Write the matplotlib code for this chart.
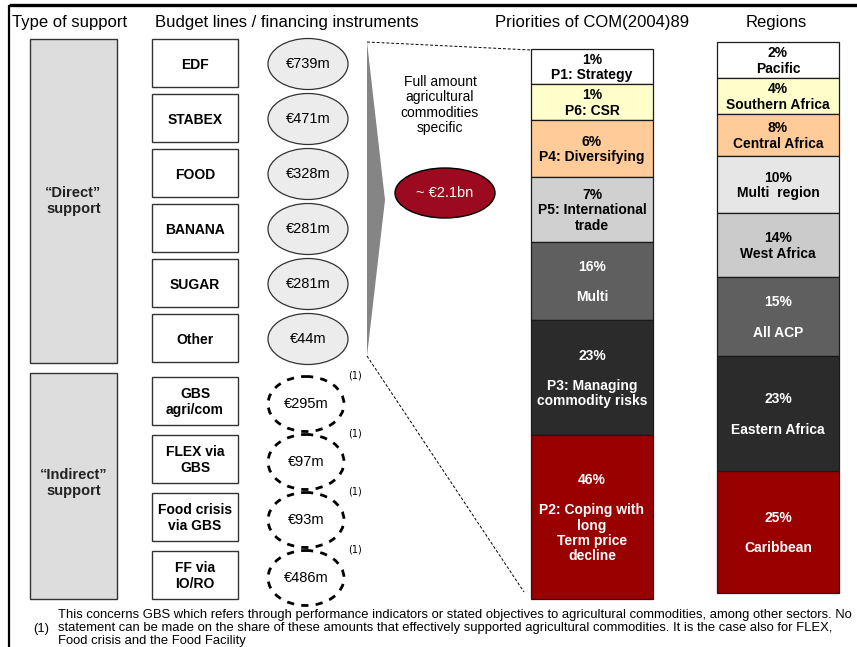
import matplotlib.pyplot as plt
from matplotlib.patches import Rectangle, Ellipse, Polygon

plt.rcParams['font.family'] = ['Liberation Sans', 'DejaVu Sans']

# data
direct_lines = ['EDF', 'STABEX', 'FOOD', 'BANANA', 'SUGAR', 'Other']
direct_amounts = [739, 471, 328, 281, 281, 44]
indirect_lines = ['GBS\nagri/com', 'FLEX via\nGBS', 'Food crisis\nvia GBS', 'FF via\nIO/RO']
indirect_amounts = [295, 97, 93, 486]
total_label = '~ €2.1bn'

priority_labels = ['P1: Strategy', 'P6: CSR', 'P4: Diversifying', 'P5: International\ntrade',
                   '\nMulti', '\nP3: Managing\ncommodity risks',
                   '\nP2: Coping with\nlong\nTerm price\ndecline']
priority_pct = [1, 1, 6, 7, 16, 23, 46]

region_labels = ['Pacific', 'Southern Africa', 'Central Africa', 'Multi  region', 'West Africa',
                 '\nAll ACP', '\nEastern Africa', '\nCaribbean']
region_pct = [2, 4, 8, 10, 14, 15, 23, 25]

# layout (pixel units) - segment heights are not proportional in the original
prio_h = [35, 36, 57, 65, 78, 115, 164]
prio_col = ['#ffffff', '#ffffcc', '#ffcc99', '#d0d0d0', '#5f5f5f', '#2b2b2b', '#990000']
prio_txt = ['black'] * 4 + ['white'] * 3
reg_h = [36, 36, 42, 57, 64, 79, 115, 122]
reg_col = ['#ffffff', '#ffffcc', '#ffcc99', '#e6e6e6', '#cbcbcb', '#5f5f5f', '#2b2b2b', '#990000']
reg_txt = ['black'] * 5 + ['white'] * 3

fig = plt.figure(figsize=(8.57, 6.47), dpi=100)
ax = fig.add_axes([0, 0, 1, 1])
ax.set_xlim(0, 857)
ax.set_ylim(647, 0)
ax.axis('off')

# frame
ax.plot([9, 857], [5, 5], color='black', lw=2.4, solid_capstyle='butt')
ax.plot([9, 9], [5, 647], color='black', lw=1.6, solid_capstyle='butt')

# headers
ax.text(12, 22, 'Type of support', fontsize=12, va='center')
ax.text(155, 22, 'Budget lines / financing instruments', fontsize=12, va='center')
ax.text(592, 22, 'Priorities of COM(2004)89', fontsize=12, va='center', ha='center')
ax.text(776, 22, 'Regions', fontsize=12, va='center', ha='center')

# type of support boxes
ax.add_patch(Rectangle((30, 39), 87, 324, fc='#dddddd', ec='#333333', lw=1))
ax.text(73.5, 201, '“Direct”\nsupport', ha='center', va='center', fontsize=10.5,
        fontweight='bold', color='#222222', linespacing=1.1)
ax.add_patch(Rectangle((30, 373), 87, 226, fc='#dddddd', ec='#333333', lw=1))
ax.text(73.5, 483, '“Indirect”\nsupport', ha='center', va='center', fontsize=10.5,
        fontweight='bold', color='#222222', linespacing=1.1)

# direct budget lines
for i, (name, amt) in enumerate(zip(direct_lines, direct_amounts)):
    yc = 63 + i * 55
    ax.add_patch(Rectangle((152, yc - 24), 86, 48, fc='white', ec='#333333', lw=1))
    ax.text(195, yc + 2, name, ha='center', va='center', fontsize=10, fontweight='bold')
    ax.add_patch(Ellipse((308, yc + 1), 80, 51, fc='#ececec', ec='#333333', lw=0.9))
    ax.text(308, yc + 1, f'€{amt}m', ha='center', va='center', fontsize=10.5)

# indirect budget lines
for i, (name, amt) in enumerate(zip(indirect_lines, indirect_amounts)):
    yc = 401 + i * 58
    ax.add_patch(Rectangle((152, yc - 24), 86, 48, fc='white', ec='#333333', lw=1))
    ax.text(195, yc + 1, name, ha='center', va='center', fontsize=10, fontweight='bold',
            linespacing=1.1)
    ax.add_patch(Ellipse((306, yc + 3), 76, 55, fc='none', ec='black', lw=2,
                         ls=(0, (2.6, 2.6))))
    ax.text(306, yc + 3, f'€{amt}m', ha='center', va='center', fontsize=10.5)
    ax.text(348, yc - 26, '(1)', fontsize=7, va='center', family='DejaVu Sans')

# funnel wedge and dashed guides
ax.add_patch(Polygon([(367, 42), (385, 200), (367, 356)], closed=True, fc='#858585', ec='none'))
ax.plot([367, 531], [42, 50], color='black', lw=0.7, ls=(0, (3, 2)))
ax.plot([367, 524], [356, 592], color='black', lw=0.7, ls=(0, (3, 2)))

ax.text(440, 105, 'Full amount\nagricultural\ncommodities\nspecific', ha='center', va='center',
        fontsize=10, linespacing=1.12)
ax.add_patch(Ellipse((445, 193), 100, 50, fc='#9b0a1e', ec='black', lw=1))
ax.text(445, 193, total_label, ha='center', va='center', fontsize=10.5, color='white')

# priorities stacked bar
y0 = 49
for lab, pct, h, c, tc in zip(priority_labels, priority_pct, prio_h, prio_col, prio_txt):
    ax.bar(592, h, bottom=y0, width=122, color=c, edgecolor='#1a1a1a', lw=0.9)
    ax.text(592, y0 + h / 2 + 1, f'{pct}%\n{lab}', ha='center', va='center', fontsize=10,
            fontweight='bold', color=tc, linespacing=1.12)
    y0 += h

# regions stacked bar
y0 = 42
for lab, pct, h, c, tc in zip(region_labels, region_pct, reg_h, reg_col, reg_txt):
    ax.bar(778, h, bottom=y0, width=122, color=c, edgecolor='#1a1a1a', lw=0.9)
    ax.text(778, y0 + h / 2 + 1, f'{pct}%\n{lab}', ha='center', va='center', fontsize=10,
            fontweight='bold', color=tc, linespacing=1.12)
    y0 += h

# footnote
note = ('This concerns GBS which refers through performance indicators or stated objectives '
        'to agricultural commodities, among other sectors. No\n'
        'statement can be made on the share of these amounts that effectively supported '
        'agricultural commodities. It is the case also for FLEX,\n'
        'Food crisis and the Food Facility')
ax.text(58, 628, note, fontsize=9.4, va='center', linespacing=1.08,
        family=['Liberation Sans Narrow', 'Liberation Sans'])
ax.text(33, 629, '(1)', fontsize=9.4, va='center',
        family=['Liberation Sans Narrow', 'Liberation Sans'])

fig.savefig('out.png', dpi=100)
